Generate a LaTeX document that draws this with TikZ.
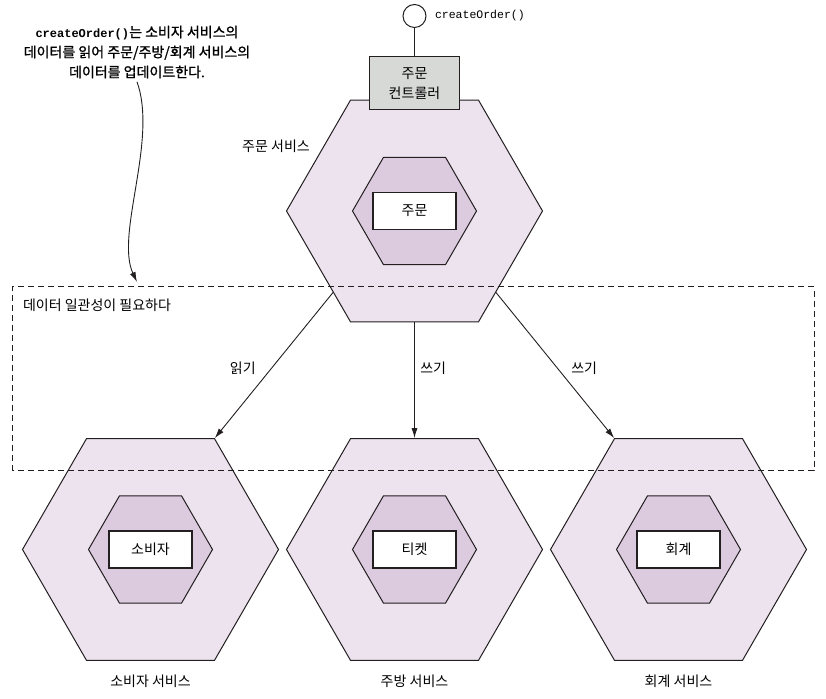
\documentclass[tikz,border=0pt]{standalone}
\usepackage{fontspec}
\setmainfont{Noto Sans CJK KR}
\setmonofont{Liberation Mono}
\newfontfamily\notefont[FakeBold=1.2]{Noto Sans CJK KR}
\usetikzlibrary{positioning,shapes.geometric,arrows.meta}
\definecolor{svcfill}{HTML}{EDE3EF}
\definecolor{aggfill}{HTML}{DCCADF}
\definecolor{ctlfill}{HTML}{D7D9D7}
\definecolor{ink}{HTML}{231F20}
\tikzset{
  svc/.style={draw=ink, line width=1pt, fill=svcfill, regular polygon, regular polygon sides=6, minimum size=256pt, inner sep=0pt},
  agg/.style={svc, fill=aggfill, minimum size=124pt},
  ent/.style={draw=ink, line width=1.2pt, fill=white, minimum width=83pt, minimum height=37pt, inner sep=0pt},
  ctl/.style={draw=ink, line width=1.2pt, fill=ctlfill, minimum width=90pt, minimum height=53pt, inner sep=0pt, align=center},
  portc/.style={draw=ink, line width=1pt, fill=white, circle, minimum size=23pt, inner sep=0pt},
  callarrow/.style={draw=ink, line width=0.9pt, -{Latex[length=10pt,width=6pt]}},
  consist/.style={draw=ink, line width=1pt, dash pattern=on 6pt off 4pt},
  mono/.style={font=\ttfamily\fontsize{11.5}{14}\selectfont}
}
\begin{document}
\begin{tikzpicture}[x=1pt, y=1pt, node distance=264pt, every node/.style={font=\fontsize{14}{20}\selectfont}]
  \useasboundingbox (0,0) rectangle (826,698);
  \node (ord) [svc] at (414.5,487) {};
  \node (ordin) [agg] at (ord) {};
  \node (ordent) [ent] at (ord) {주문};
  \node (ordl) at (276,552) {주문 서비스};
  \node (port) [portc] at (414.5,682) {};
  \node (portl) [mono, right=5pt of port] {createOrder()};
  \node (ctl) [ctl, below=28pt of port] {주문\\컨트롤러};
  \draw[ink, line width=1pt] (port) -- (ctl);
  \node (kit) [svc] at (414.5,148.5) {};
  \node (cons) [svc, left of=kit] {};
  \node (acct) [svc, right of=kit] {};
  \node (kitin) [agg] at (kit) {};
  \node (consin) [agg] at (cons) {};
  \node (acctin) [agg] at (acct) {};
  \node (kitent) [ent] at (kit) {티켓};
  \node (consent) [ent] at (cons) {소비자};
  \node (acctent) [ent] at (acct) {회계};
  \node (kitl) [below=11pt of kit] {주방 서비스};
  \node (consl) [below=11pt of cons] {소비자 서비스};
  \node (acctl) [below=11pt of acct] {회계 서비스};
  \draw[consist] (12,227) rectangle (814,411);
  \node (need) [anchor=west] at (19.5,393) {데이터 일관성이 필요하다};
  \draw[callarrow] (ord.-135) -- (cons.60) node[pos=0.52, left=12pt] {읽기};
  \draw[callarrow] (ord.south) -- (kit.north) node[pos=0.4, right=2pt] {쓰기};
  \draw[callarrow] (ord.-45) -- (acct.120) node[pos=0.52, right=10pt] {쓰기};
  \node (note) [align=center, font=\notefont\fontsize{14}{20}\selectfont] at (137,646) {{\ttfamily\bfseries\fontsize{12}{20}\selectfont createOrder()}는 소비자 서비스의\\데이터를 읽어 주문/주방/회계 서비스의\\데이터를 업데이트한다.};
  \coordinate (hit) at (137,416);
  \draw[callarrow] (note.south) .. controls (158,558) and (115,463) .. (hit);
\end{tikzpicture}
\end{document}
